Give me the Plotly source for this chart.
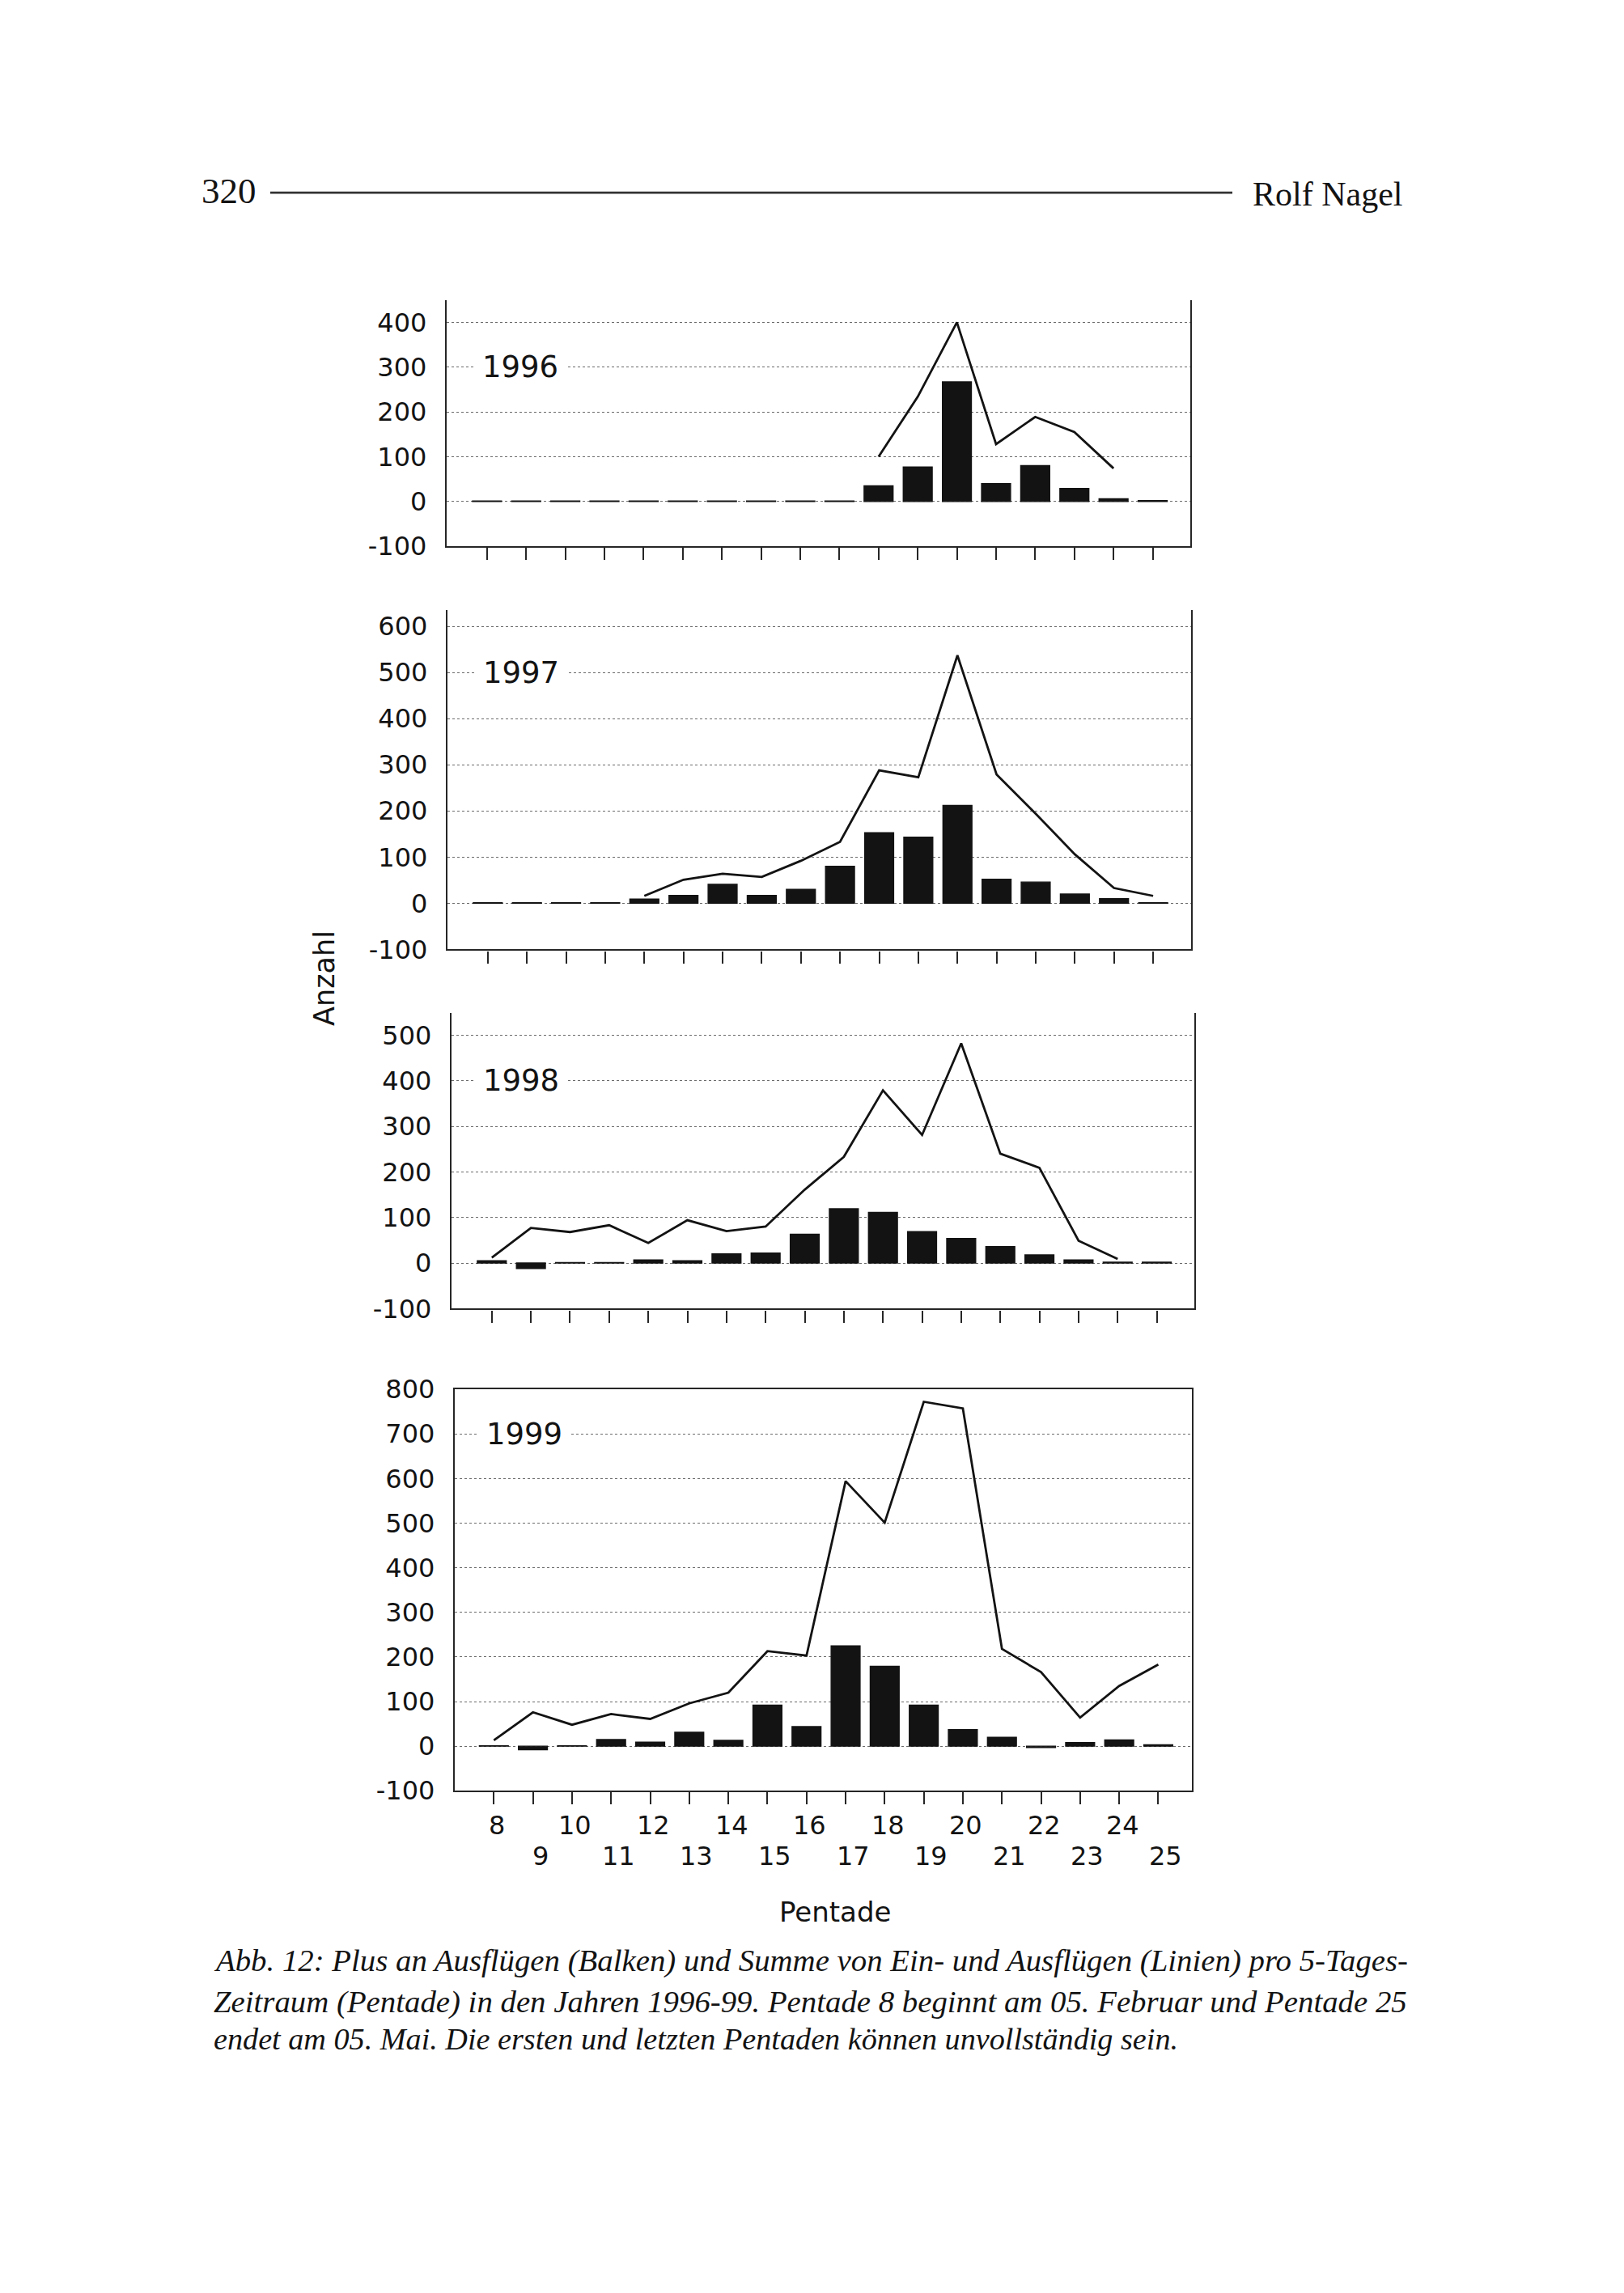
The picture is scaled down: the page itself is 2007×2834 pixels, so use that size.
import plotly.graph_objects as go

W, H = 2007, 2834

# ---------------- data ----------------
pentades = [8, 9, 10, 11, 12, 13, 14, 15, 16, 17, 18, 19, 20, 21, 22, 23, 24, 25]
pentade_labels = ["8", "9", "10", "11", "12", "13", "14", "15", "16",
                  "17", "18", "19", "20", "21", "22", "23", "24", "25"]
years = ["1996", "1997", "1998", "1999"]

# Plus an Ausfluegen (Balken)
plus_1996 = [1, 1, 1, 1, 1, 1, 1, 1, 1, 1, 35, 77, 267, 40, 80, 29, 6, 2]
plus_1997 = [1, 1, 1, 1, 9, 17, 41, 17, 30, 80, 153, 143, 212, 52, 46, 20, 10, 1]
plus_1998 = [5, -12, 1, 1, 7, 5, 20, 22, 63, 119, 111, 69, 54, 36, 18, 7, 2, 2]
plus_1999 = [1, -8, 1, 15, 9, 31, 13, 92, 44, 225, 179, 92, 37, 20, -3, 8, 14, 3]

# Summe von Ein- und Ausfluegen (Linien)
sum_1996 = [None, None, None, None, None, None, None, None, None, None,
            100, 234, 400, 128, 189, 155, 74, None]
sum_1997 = [None, None, None, None, 16, 51, 64, 57, 92, 133, 288, 273, 537,
            279, 194, 106, 33, 16]
sum_1998 = [12, 77, 68, 83, 44, 94, 70, 80, 161, 233, 379, 281, 482, 240,
            209, 49, 9, None]
sum_1999 = [13, 76, 48, 72, 61, 96, 120, 213, 203, 594, 501, 772, 757, 218,
            166, 64, 135, 183]

# y tick values / labels per panel
yticks_1996 = [-100, 0, 100, 200, 300, 400]
yticks_1997 = [-100, 0, 100, 200, 300, 400, 500, 600]
yticks_1998 = [-100, 0, 100, 200, 300, 400, 500]
yticks_1999 = [-100, 0, 100, 200, 300, 400, 500, 600, 700, 800]
ytext_1996 = ["-100", "0", "100", "200", "300", "400"]
ytext_1997 = ["-100", "0", "100", "200", "300", "400", "500", "600"]
ytext_1998 = ["-100", "0", "100", "200", "300", "400", "500"]
ytext_1999 = ["-100", "0", "100", "200", "300", "400", "500", "600", "700", "800"]

bars = [plus_1996, plus_1997, plus_1998, plus_1999]
lines = [sum_1996, sum_1997, sum_1998, sum_1999]
yticks = [yticks_1996, yticks_1997, yticks_1998, yticks_1999]
ytexts = [ytext_1996, ytext_1997, ytext_1998, ytext_1999]
year_label_y = [300, 500, 400, 700]

y_title = "Anzahl"
x_title = "Pentade"
header_left = "320"
header_right = "Rolf Nagel"
caption = [
    "Abb. 12: Plus an Ausflügen (Balken) und Summe von Ein- und Ausflügen (Linien) pro 5-Tages-",
    "Zeitraum (Pentade) in den Jahren 1996-99. Pentade 8 beginnt am 05. Februar und Pentade 25",
    "endet am 05. Mai. Die ersten und letzten Pentaden können unvollständig sein.",
]

# ---------------- geometry (pixels) ----------------
panels = [
    dict(l=544, r=1463, t=349, b=657, yr=[-100, 449], xr=[6.97, 25.96], box=False),
    dict(l=545, r=1464, t=737, b=1162, yr=[-100, 635], xr=[6.97, 25.97], box=False),
    dict(l=550, r=1468, t=1242, b=1612, yr=[-100, 548], xr=[6.97, 25.96], box=False),
    dict(l=554, r=1465, t=1713, b=2216, yr=[-100, 800], xr=[7.0, 25.86], box=True),
]

SANS = "DejaVu Sans, Verdana, Arial, sans-serif"
SERIF = "Liberation Serif, Times New Roman, serif"
INK = "#131313"
AXIS = "#262626"

fig = go.Figure()
layout = dict(
    width=W, height=H,
    margin=dict(l=0, r=0, t=0, b=0),
    paper_bgcolor="white", plot_bgcolor="white",
    showlegend=False,
    barmode="overlay",
)
annotations = []

for i, p in enumerate(panels):
    n = i + 1
    xa = "x" if n == 1 else f"x{n}"
    ya = "y" if n == 1 else f"y{n}"
    fig.add_trace(go.Bar(
        x=pentades, y=bars[i], xaxis=xa, yaxis=ya, width=0.74,
        marker=dict(color=INK, line=dict(color=INK, width=1.4)),
    ))
    fig.add_trace(go.Scatter(
        x=pentades, y=lines[i], xaxis=xa, yaxis=ya, mode="lines",
        line=dict(color=INK, width=2.8), connectgaps=False,
    ))
    xkey = "xaxis" if n == 1 else f"xaxis{n}"
    ykey = "yaxis" if n == 1 else f"yaxis{n}"
    layout[xkey] = dict(
        domain=[p["l"] / W, p["r"] / W], anchor=ya, range=p["xr"],
        showgrid=False, zeroline=False,
        showline=True, linecolor=AXIS, linewidth=2.4, mirror=p["box"],
        ticks="outside", ticklen=15, tickwidth=1.7, tickcolor=AXIS,
        tickmode="array", tickvals=pentades, showticklabels=False,
    )
    layout[ykey] = dict(
        domain=[1 - p["b"] / H, 1 - p["t"] / H], anchor=xa, range=p["yr"],
        tickmode="array", tickvals=yticks[i], ticktext=ytexts[i],
        showgrid=True, gridcolor="#6a6a6a", griddash="dot", gridwidth=1.4,
        zeroline=False,
        showline=True, linecolor=AXIS, linewidth=2.4, mirror=True,
        ticks="", ticklabelstandoff=16,
        tickfont=dict(family=SANS, size=32, color=INK),
    )
    annotations.append(dict(
        text=years[i], xref=f"{xa} domain", yref=ya,
        x=(0.099 if i < 2 else 0.094), y=year_label_y[i],
        xanchor="center", yanchor="middle", showarrow=False,
        font=dict(family=SANS, size=37, color=INK),
        bgcolor="white", borderpad=10,
    ))

# two-row pentade labels below the last panel
for k, pv in enumerate(pentades):
    even = (pv % 2 == 0)
    annotations.append(dict(
        text=pentade_labels[k], xref="x4", yref="paper", x=pv,
        y=1 - (2259 if even else 2298) / H,
        xshift=(4 if even else 9),
        xanchor="center", yanchor="middle", showarrow=False,
        font=dict(family=SANS, size=32, color=INK),
    ))

annotations.append(dict(
    text=x_title, xref="paper", yref="paper", x=1024 / W, y=1 - 2368 / H,
    xanchor="center", yanchor="middle", showarrow=False,
    font=dict(family=SANS, size=34, color=INK),
))
annotations.append(dict(
    text=y_title, xref="paper", yref="paper", x=393 / W, y=1 - 1198 / H,
    xanchor="center", yanchor="middle", showarrow=False, textangle=-90,
    font=dict(family=SANS, size=35, color=INK),
))

# page header
annotations.append(dict(
    text=header_left, xref="paper", yref="paper", x=239 / W, y=1 - 212 / H,
    xanchor="left", yanchor="middle", showarrow=False,
    font=dict(family=SERIF, size=45, color=INK),
))
annotations.append(dict(
    text=header_right, xref="paper", yref="paper", x=1727 / W, y=1 - 216 / H,
    xanchor="right", yanchor="middle", showarrow=False,
    font=dict(family=SERIF, size=42, color=INK),
))

# caption
cap_y = [2429, 2480, 2527]
cap_size = [38.8, 38.8, 38.2]
for j, line in enumerate(caption):
    annotations.append(dict(
        text=f"<i>{line}</i>", xref="paper", yref="paper", x=254 / W,
        y=1 - cap_y[j] / H, xanchor="left", yanchor="middle", showarrow=False,
        font=dict(family=SERIF, size=cap_size[j], color=INK),
    ))

layout["annotations"] = annotations
layout["shapes"] = [dict(
    type="line", xref="paper", yref="paper",
    x0=326 / W, x1=1515 / W, y0=1 - 214 / H, y1=1 - 214 / H,
    line=dict(color="#333333", width=2.6),
)]

fig.update_layout(**layout)
fig.write_html("out.html")
